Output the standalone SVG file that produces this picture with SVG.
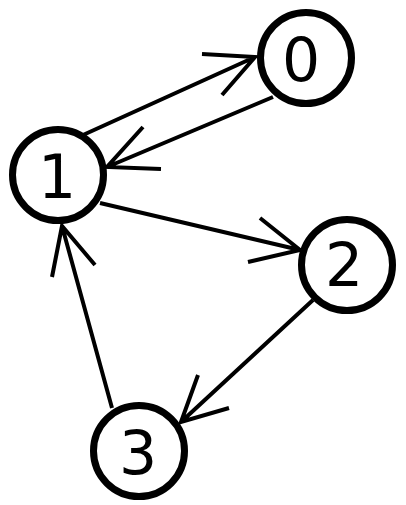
<svg xmlns="http://www.w3.org/2000/svg" width="406" height="505" viewBox="0 0 406 505">
<style>
.node circle{fill:#fff;stroke:#000;stroke-width:7}
.node text{font-family:"DejaVu Sans",sans-serif;font-size:60px;text-anchor:middle;fill:#000}
.edges path{fill:none;stroke:#000;stroke-width:4}
</style>
<rect width="406" height="505" fill="#fff"/>
<g class="edges">
<path d="M83,135 L255,57 M202,54 L255,57 L222,95"/>
<path d="M273,97 L107,167 M143,127 L107,167 L161,169"/>
<path d="M100,203 L300,250 M260,218 L300,250 L248,262"/>
<path d="M313,300 L181,422 M198,375 L181,422 L229,408"/>
<path d="M112,408 L62,226 M52,277 L62,226 L95,265"/>
</g>
<g id="node0" class="node"><circle cx="306" cy="58" r="45.5"/><text x="301" y="81">0</text></g>
<g id="node1" class="node"><circle cx="58" cy="175" r="45.5"/><text x="57" y="198">1</text></g>
<g id="node2" class="node"><circle cx="347" cy="265" r="45.5"/><text x="344" y="286">2</text></g>
<g id="node3" class="node"><circle cx="139" cy="451" r="45.5"/><text x="138" y="474">3</text></g>
</svg>
